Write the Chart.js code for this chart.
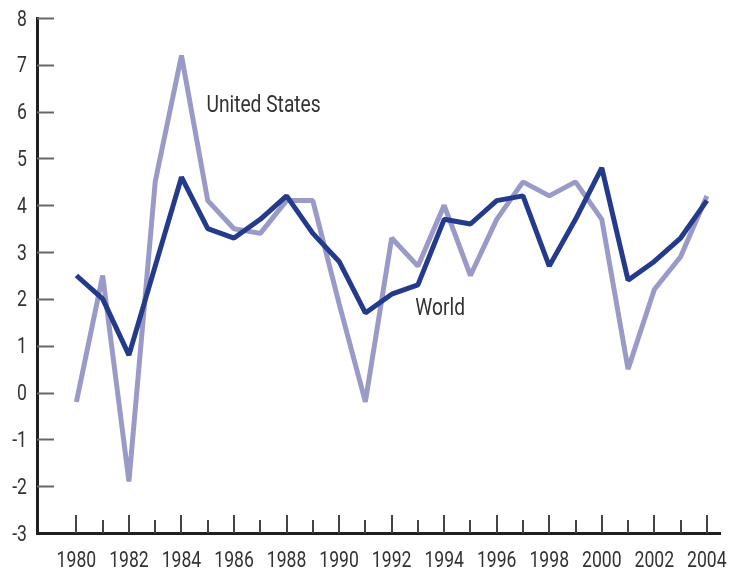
<!DOCTYPE html>
<html>
<head>
<meta charset="utf-8">
<script src="https://cdn.jsdelivr.net/npm/chart.js@4/dist/chart.umd.min.js"></script>
<style>
  html, body { margin: 0; padding: 0; background: #fff; }
  #wrap { width: 734px; height: 569px; position: relative; }
</style>
</head>
<body>
<div id="wrap"><canvas id="growth"></canvas></div>
<script>
// Annual GDP growth, percent
const years = [1980, 1981, 1982, 1983, 1984, 1985, 1986, 1987, 1988, 1989, 1990, 1991, 1992,
  1993, 1994, 1995, 1996, 1997, 1998, 1999, 2000, 2001, 2002, 2003, 2004];
const usGrowth = [-0.2, 2.5, -1.9, 4.5, 7.2, 4.1, 3.5, 3.4, 4.1, 4.1, 1.9, -0.2, 3.3,
  2.7, 4.0, 2.5, 3.7, 4.5, 4.2, 4.5, 3.7, 0.5, 2.2, 2.9, 4.2];
const worldGrowth = [2.5, 2.0, 0.8, 2.7, 4.6, 3.5, 3.3, 3.7, 4.2, 3.4, 2.8, 1.7, 2.1,
  2.3, 3.7, 3.6, 4.1, 4.2, 2.7, 3.7, 4.8, 2.4, 2.8, 3.3, 4.1];
const yTicks = [-3, -2, -1, 0, 1, 2, 3, 4, 5, 6, 7, 8];
const xTickLabels = ['1980', '1982', '1984', '1986', '1988', '1990', '1992',
  '1994', '1996', '1998', '2000', '2002', '2004'];

// series labels placed next to the lines, in data units (left edge, baseline)
const seriesLabels = [
  { text: 'United States', x: 1984.95, y: 6.0 },
  { text: 'World', x: 1992.9, y: 1.66 }
];

// no condensed face installed, so text is squeezed horizontally
const FONT = "22px Roboto, 'Liberation Sans', sans-serif";
const LABEL_FONT = "24px Roboto, 'Liberation Sans', sans-serif";

function squeezedText(ctx, text, x, y, align, squeeze) {
  ctx.save();
  ctx.translate(x, y);
  ctx.scale(squeeze, 1);
  ctx.textAlign = align;
  ctx.fillText(text, 0, 0);
  ctx.restore();
}

// Draws the short inward tick marks, tick labels and the line labels
const decorations = {
  id: 'decorations',
  beforeDatasetsDraw(chart) {
    const { ctx, chartArea, scales } = chart;
    ctx.save();
    ctx.lineWidth = 2;
    // y ticks pointing into the plot
    ctx.strokeStyle = '#666';
    yTicks.forEach(v => {
      if (v === -3) return;
      const y = Math.round(scales.y.getPixelForValue(v)) + 0.5;
      ctx.beginPath();
      ctx.moveTo(chartArea.left, y);
      ctx.lineTo(chartArea.left + 17, y);
      ctx.stroke();
    });
    // x ticks pointing up, long on even years
    ctx.strokeStyle = '#444';
    years.forEach(yr => {
      const x = Math.round(scales.x.getPixelForValue(yr));
      const len = yr % 2 === 0 ? 18 : 13;
      ctx.beginPath();
      ctx.moveTo(x, chartArea.bottom);
      ctx.lineTo(x, chartArea.bottom - len);
      ctx.stroke();
    });
    ctx.restore();
  },
  afterDraw(chart) {
    const { ctx, chartArea, scales } = chart;
    ctx.save();
    ctx.fillStyle = '#333';
    ctx.textBaseline = 'alphabetic';
    ctx.font = FONT;
    yTicks.forEach(v => {
      squeezedText(ctx, String(v), chartArea.left - 10, scales.y.getPixelForValue(v) + 7.5, 'right', 0.8);
    });
    xTickLabels.forEach(t => {
      squeezedText(ctx, t, scales.x.getPixelForValue(Number(t)), chartArea.bottom + 33.5, 'center', 0.8);
    });
    ctx.font = LABEL_FONT;
    seriesLabels.forEach(l => {
      squeezedText(ctx, l.text, scales.x.getPixelForValue(l.x), scales.y.getPixelForValue(l.y), 'left', 0.8);
    });
    ctx.restore();
  }
};

new Chart(document.getElementById('growth').getContext('2d'), {
  type: 'line',
  data: {
    datasets: [
      {
        label: 'United States',
        data: years.map((yr, i) => ({ x: yr, y: usGrowth[i] })),
        borderColor: '#9a9ac8',
        borderWidth: 5,
        pointRadius: 0,
        tension: 0,
        borderJoinStyle: 'bevel',
        order: 1
      },
      {
        label: 'World',
        data: years.map((yr, i) => ({ x: yr, y: worldGrowth[i] })),
        borderColor: '#243a8b',
        borderWidth: 5,
        pointRadius: 0,
        tension: 0,
        borderJoinStyle: 'bevel',
        order: 0
      }
    ]
  },
  options: {
    responsive: true,
    maintainAspectRatio: false,
    animation: false,
    events: [],
    layout: { padding: { top: 18, right: 14, left: 0, bottom: 0 } },
    plugins: {
      legend: { display: false },
      tooltip: { enabled: false }
    },
    scales: {
      x: {
        type: 'linear',
        min: 1978.5,
        max: 2004.5,
        afterBuildTicks: scale => { scale.ticks = years.map(v => ({ value: v })); },
        afterFit: scale => {
          scale.height = 36;
          scale.paddingLeft = 0;
          scale.paddingRight = 0;
        },
        grid: { display: false, drawTicks: false },
        border: { display: true, color: '#231f20', width: 3 },
        ticks: { display: false }
      },
      y: {
        min: -3,
        max: 8,
        afterBuildTicks: scale => { scale.ticks = yTicks.map(v => ({ value: v })); },
        afterFit: scale => {
          scale.width = 37;
          scale.paddingTop = 0;
          scale.paddingBottom = 0;
        },
        grid: { display: false, drawTicks: false },
        border: { display: true, color: '#231f20', width: 3 },
        ticks: { display: false }
      }
    }
  },
  plugins: [decorations]
});
</script>
</body>
</html>
